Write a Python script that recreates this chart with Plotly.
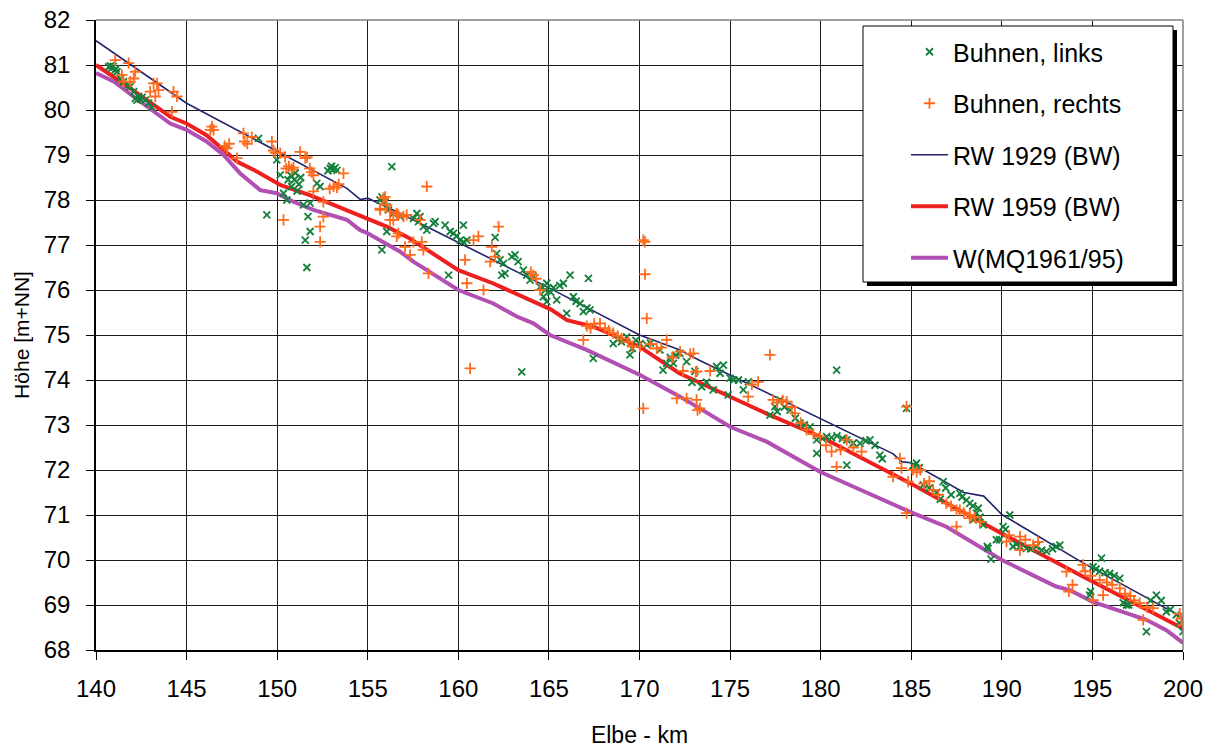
import plotly.graph_objects as go

# ---------------- data ----------------
km_links = [140.70, 140.80, 140.88, 140.95, 141.06, 141.10, 141.16, 141.34, 141.52, 141.80, 141.89, 142.08, 142.17, 142.26, 142.35,
            142.45, 142.54, 142.72, 142.90, 143.09, 148.97, 149.43, 149.98, 150.17, 150.35, 150.53, 150.60, 150.75, 150.80, 150.95,
            151.00, 151.10, 151.20, 151.30, 151.45, 151.55, 151.64, 151.70, 151.82, 151.82, 152.19, 152.37, 152.80, 152.93, 153.00,
            153.10, 153.20, 153.30, 155.68, 155.78, 155.78, 155.96, 156.05, 156.05, 156.14, 156.33, 156.41, 156.79, 157.52, 157.71,
            157.80, 157.89, 158.07, 158.26, 158.63, 158.72, 159.27, 159.46, 159.55, 159.73, 159.91, 160.10, 160.28, 160.28, 160.47,
            162.03, 162.12, 162.30, 162.40, 162.49, 162.58, 162.95, 163.13, 163.30, 163.50, 163.59, 163.77, 163.96, 164.14, 164.51,
            164.70, 164.80, 164.88, 164.88, 165.10, 165.25, 165.43, 165.60, 165.80, 165.98, 166.17, 166.35, 166.50, 166.72, 166.90,
            167.10, 167.18, 167.27, 167.45, 168.55, 168.80, 169.00, 169.29, 169.47, 169.60, 169.80, 170.03, 170.40, 170.60, 171.13,
            171.30, 171.50, 171.70, 171.87, 172.00, 172.23, 172.60, 172.90, 173.06, 173.43, 173.70, 174.07, 174.26, 174.45, 174.63,
            174.90, 175.00, 175.20, 175.46, 175.73, 176.01, 177.20, 177.47, 177.60, 177.75, 178.00, 178.31, 178.60, 178.86, 179.10,
            179.41, 179.78, 179.78, 180.10, 180.33, 180.60, 180.88, 180.90, 181.20, 181.44, 181.44, 181.80, 182.17, 182.50, 182.72,
            183.00, 183.27, 183.40, 184.74, 185.10, 185.29, 185.45, 185.66, 186.00, 186.40, 186.60, 186.76, 186.90, 187.20, 187.68,
            187.80, 188.05, 188.23, 188.40, 188.42, 188.60, 188.70, 188.80, 188.97, 189.20, 189.24, 189.40, 189.70, 189.88, 190.07,
            190.20, 190.44, 190.62, 190.80, 191.00, 191.36, 191.60, 191.90, 192.20, 192.46, 192.80, 193.00, 193.20, 194.85, 194.90,
            195.04, 195.20, 195.40, 195.50, 195.70, 195.96, 196.20, 196.51, 196.70, 196.88, 197.00, 197.98, 198.20, 198.53, 198.80,
            199.08, 199.30, 199.63, 199.80, 200.00]
h_links = [80.96, 80.98, 80.93, 80.97, 80.89, 80.92, 80.85, 80.70, 80.63, 80.56, 80.52, 80.41, 80.26, 80.22, 80.30,
           80.24, 80.28, 80.22, 80.15, 80.06, 79.37, 77.67, 78.89, 78.56, 78.15, 78.00, 78.45, 78.55, 78.30, 78.45,
           78.60, 78.20, 78.35, 78.50, 77.89, 77.11, 76.50, 77.63, 77.93, 77.30, 78.37, 78.30, 78.65, 78.70, 78.75,
           78.68, 78.72, 78.66, 78.00, 78.07, 76.89, 77.96, 77.30, 77.85, 77.78, 78.74, 77.70, 77.63, 77.59, 77.70,
           77.52, 77.63, 77.41, 77.33, 77.48, 77.52, 77.44, 76.33, 77.30, 77.26, 77.20, 77.11, 77.07, 77.44, 77.11,
           77.17, 76.81, 76.67, 76.33, 76.59, 76.37, 76.74, 76.78, 76.63, 74.18, 76.44, 76.33, 76.22, 76.30, 76.07,
           75.85, 76.00, 76.15, 75.74, 75.95, 76.05, 75.78, 76.10, 76.15, 75.48, 76.33, 75.85, 75.75, 75.70, 75.52,
           75.60, 76.26, 75.56, 74.48, 74.81, 74.90, 74.85, 74.96, 74.56, 74.70, 74.88, 74.81, 74.78, 74.82, 74.67,
           74.22, 74.37, 74.50, 74.37, 74.55, 74.59, 74.41, 73.95, 74.19, 73.85, 73.95, 73.78, 74.30, 74.15, 74.33,
           73.67, 74.04, 74.00, 74.00, 73.78, 73.96, 73.22, 73.41, 73.30, 73.56, 73.40, 73.33, 73.15, 73.04, 73.00,
           72.96, 72.67, 72.37, 72.70, 72.74, 72.72, 74.22, 72.76, 72.70, 72.67, 72.11, 72.60, 72.59, 72.65, 72.67,
           72.55, 72.33, 72.25, 73.37, 72.10, 72.15, 72.05, 71.67, 71.60, 71.50, 71.35, 71.74, 71.60, 71.45, 71.48,
           71.40, 71.33, 71.26, 71.20, 70.89, 71.04, 71.15, 70.95, 70.78, 70.30, 70.26, 70.02, 70.45, 70.45, 70.74,
           70.68, 71.00, 70.30, 70.35, 70.30, 70.26, 70.25, 70.30, 70.22, 70.19, 70.25, 70.30, 70.33, 69.22, 69.30,
           69.85, 69.80, 69.75, 70.04, 69.72, 69.70, 69.65, 69.59, 69.05, 69.00, 69.00, 68.41, 69.10, 69.22, 69.10,
           68.85, 68.90, 68.78, 68.60, 68.41]

km_rechts = [141.06, 141.43, 141.52, 141.80, 141.89, 142.08, 142.17, 142.99, 143.18, 143.27, 143.37, 143.45, 144.19, 144.28, 144.47,
             146.31, 146.40, 146.49, 147.10, 147.23, 147.35, 147.78, 148.14, 148.20, 148.35, 148.60, 149.71, 149.80, 149.90, 150.17,
             150.35, 150.44, 150.50, 150.65, 150.80, 150.90, 151.27, 151.55, 151.65, 151.80, 151.90, 152.00, 152.00, 152.37, 152.37,
             152.55, 152.55, 152.90, 153.11, 153.30, 153.40, 153.66, 155.68, 155.69, 155.86, 155.96, 156.05, 156.23, 156.23, 156.41,
             156.60, 156.60, 156.69, 156.69, 156.97, 157.06, 157.15, 157.34, 157.52, 157.89, 157.98, 158.07, 158.26, 158.35, 160.37,
             160.47, 160.65, 160.84, 161.11, 161.39, 161.76, 161.85, 162.03, 162.22, 164.00, 164.14, 164.30, 164.51, 166.90, 167.09,
             167.30, 167.50, 167.82, 168.10, 168.30, 168.55, 168.80, 169.00, 169.38, 169.60, 170.03, 170.21, 170.30, 170.30, 170.21,
             170.40, 170.60, 170.95, 171.20, 171.50, 171.80, 172.06, 172.24, 172.40, 172.60, 172.80, 172.98, 173.10, 173.15, 173.17,
             173.20, 173.33, 173.90, 176.00, 176.20, 176.55, 177.20, 177.38, 177.60, 177.90, 178.12, 178.40, 178.58, 178.90, 179.22,
             179.60, 179.96, 180.30, 180.60, 180.88, 181.10, 181.44, 181.80, 182.26, 184.00, 184.37, 184.46, 184.74, 184.74, 184.83,
             185.10, 185.30, 185.50, 185.70, 186.00, 186.21, 186.50, 186.94, 187.20, 187.50, 187.50, 187.68, 187.90, 188.23, 188.23,
             188.50, 188.79, 190.26, 190.40, 191.00, 191.00, 191.30, 191.73, 192.00, 193.57, 193.70, 193.90, 194.48, 194.60, 194.90,
             195.04, 195.40, 195.59, 195.80, 196.10, 196.51, 196.80, 197.10, 197.30, 197.61, 197.80, 198.00, 198.35, 199.82, 199.90,
             200.00]
h_rechts = [81.11, 80.78, 80.63, 81.04, 80.63, 80.70, 80.85, 80.41, 80.59, 80.30, 80.59, 80.44, 79.96, 80.41, 80.30,
            79.56, 79.63, 79.56, 79.20, 79.15, 79.25, 78.93, 79.48, 79.30, 79.25, 79.40, 79.30, 79.10, 79.05, 79.04,
            77.56, 78.96, 78.70, 78.75, 78.68, 78.72, 79.07, 78.93, 78.95, 78.70, 78.62, 78.55, 78.19, 77.41, 77.07,
            77.96, 77.63, 78.25, 78.30, 78.28, 78.35, 78.59, 77.81, 77.78, 78.04, 78.07, 77.89, 77.74, 77.56, 77.56,
            77.70, 77.19, 77.67, 77.26, 77.63, 76.96, 77.67, 76.78, 77.07, 77.56, 77.07, 76.89, 78.30, 76.37, 76.67,
            76.15, 74.26, 77.11, 77.19, 76.00, 76.63, 76.96, 76.74, 77.41, 76.40, 76.33, 76.25, 76.00, 74.89, 75.20,
            75.15, 75.25, 75.26, 75.15, 75.10, 75.04, 74.98, 74.92, 74.85, 74.75, 74.74, 77.11, 77.07, 76.35, 73.37,
            75.37, 74.80, 74.70, 74.72, 74.89, 74.50, 73.59, 74.63, 74.20, 73.59, 74.58, 74.59, 74.18, 73.56, 74.19,
            73.33, 73.37, 74.20, 73.63, 73.90, 73.96, 74.56, 73.56, 73.50, 73.55, 73.52, 73.40, 73.26, 73.05, 72.89,
            72.80, 72.74, 72.55, 72.41, 72.07, 72.45, 72.67, 72.50, 72.41, 71.85, 72.26, 72.04, 73.41, 71.04, 71.74,
            72.00, 71.95, 72.00, 71.70, 71.75, 71.56, 71.45, 71.26, 71.20, 71.11, 70.74, 71.11, 71.05, 70.93, 71.00,
            70.95, 70.85, 70.41, 70.55, 70.52, 70.22, 70.45, 70.33, 70.40, 69.74, 69.30, 69.45, 69.89, 69.75, 69.65,
            69.11, 69.56, 69.22, 69.50, 69.45, 69.37, 69.25, 69.20, 69.10, 69.04, 68.67, 68.95, 68.93, 68.81, 68.70,
            68.55]

km_rw1929 = [140.0, 145.0, 153.85, 154.6, 155.0, 156.8, 164.9, 170.0, 172.2, 173.3, 184.0, 184.5, 185.0, 187.9, 189.0, 190.0, 194.5, 200.0]
h_rw1929 = [81.54, 80.15, 78.26, 78.01, 78.04, 77.70, 76.07, 75.00, 74.67, 74.44, 72.36, 72.18, 72.16, 71.50, 71.42, 71.01, 69.93, 68.72]

km_rw1959 = [140.0, 141.0, 141.9, 144.1, 145.0, 146.1, 147.8, 148.9, 150.2, 151.8, 154.4, 156.05, 157.3, 160.0, 161.9, 164.3,
             165.1, 166.0, 167.5, 170.0, 172.2, 177.2, 180.0, 185.1, 188.8, 190.0, 194.5, 200.0]
h_rw1959 = [81.00, 80.74, 80.48, 79.85, 79.70, 79.44, 78.85, 78.63, 78.33, 78.11, 77.67, 77.41, 77.15, 76.44, 76.15, 75.70,
            75.57, 75.33, 75.18, 74.74, 74.15, 73.22, 72.74, 71.67, 70.85, 70.59, 69.63, 68.48]

km_mq = [140.0, 141.0, 142.07, 144.1, 145.0, 146.1, 147.04, 147.96, 149.06, 149.98, 150.9, 152.0, 153.85, 154.58, 154.95,
         156.79, 157.52, 160.0, 161.93, 163.23, 164.14, 165.06, 167.08, 170.03, 172.24, 175.0, 177.02, 179.96, 182.53,
         185.1, 186.94, 187.68, 190.0, 193.0, 193.75, 195.03, 197.98, 199.08, 200.0]
h_mq = [80.82, 80.63, 80.30, 79.70, 79.56, 79.30, 79.00, 78.59, 78.22, 78.15, 77.96, 77.78, 77.56, 77.33, 77.27,
        76.85, 76.63, 76.00, 75.70, 75.41, 75.26, 75.00, 74.67, 74.11, 73.63, 72.96, 72.63, 71.96, 71.50,
        71.04, 70.74, 70.56, 70.00, 69.41, 69.33, 69.07, 68.67, 68.44, 68.16]

x_ticks = [140, 145, 150, 155, 160, 165, 170, 175, 180, 185, 190, 195, 200]
y_ticks = list(range(68, 83))

# ---------------- layout geometry (pixels) ----------------
W, H = 1219, 749
L, R, T, B = 96, 1183, 20, 650
FONT = "Liberation Sans, Arial, sans-serif"

def px_x(p):
    return (p - L) / (R - L)

def px_y(p):
    return (B - p) / (B - T)

GREEN = "#14803c"
ORANGE = "#ff6a1c"

fig = go.Figure()

fig.add_trace(go.Scatter(x=km_rw1929, y=h_rw1929, mode="lines", name="RW 1929 (BW)",
                         line=dict(color="#23236e", width=1.6), legendrank=3, legendgroup="c"))
fig.add_trace(go.Scatter(x=km_rw1959, y=h_rw1959, mode="lines", name="RW 1959 (BW)",
                         line=dict(color="#ee1f1f", width=4), legendrank=4, legendgroup="d"))
fig.add_trace(go.Scatter(x=km_mq, y=h_mq, mode="lines", name="W(MQ1961/95)",
                         line=dict(color="#b14fb2", width=4), legendrank=5, legendgroup="e"))
fig.add_trace(go.Scatter(x=km_links, y=h_links, mode="markers", name="Buhnen, links",
                         marker=dict(symbol="x-thin", size=7, color=GREEN, line=dict(color=GREEN, width=1.8)),
                         legendrank=1, legendgroup="a"))
fig.add_trace(go.Scatter(x=km_rechts, y=h_rechts, mode="markers", name="Buhnen, rechts",
                         marker=dict(symbol="cross-thin", size=8, color=ORANGE, line=dict(color=ORANGE, width=1.8)),
                         legendrank=2, legendgroup="b"))

shapes = [
    # top and right frame
    dict(type="line", xref="paper", yref="paper", x0=0, x1=1, y0=1, y1=1, line=dict(color="#808080", width=1.5)),
    dict(type="line", xref="paper", yref="paper", x0=1, x1=1, y0=0, y1=1, line=dict(color="#808080", width=1.5)),
    # legend shadow
    dict(type="rect", xref="paper", yref="paper", x0=px_x(867), x1=px_x(1177), y0=px_y(286), y1=px_y(30),
         fillcolor="black", line=dict(width=0), layer="above"),
    # legend box
    dict(type="rect", xref="paper", yref="paper", x0=px_x(863), x1=px_x(1173), y0=px_y(282), y1=px_y(26),
         fillcolor="white", line=dict(color="black", width=1), layer="above"),
]

fig.update_layout(
    width=W, height=H,
    margin=dict(l=L, r=W - R, t=T, b=H - B),
    paper_bgcolor="white", plot_bgcolor="white",
    font=dict(family=FONT, color="black", size=24),
    showlegend=True,
    legend=dict(x=px_x(906), y=px_y(29), xanchor="left", yanchor="top",
                bgcolor="rgba(0,0,0,0)", borderwidth=0,
                font=dict(family=FONT, size=25, color="black"),
                itemwidth=37,
                traceorder="grouped", tracegroupgap=16),
    shapes=shapes,
    xaxis=dict(range=[140, 200], tickmode="array", tickvals=x_ticks, ticktext=[str(v) for v in x_ticks],
               showgrid=True, gridcolor="#1a1a1a", gridwidth=1,
               showline=True, linecolor="black", linewidth=1.5,
               ticks="outside", ticklen=8, tickcolor="black", tickwidth=1,
               tickfont=dict(family=FONT, size=24), ticklabelstandoff=8,
               zeroline=False, automargin=False,
               title=dict(text="Elbe - km", font=dict(family=FONT, size=23), standoff=26)),
    yaxis=dict(range=[68, 82], tickmode="array", tickvals=y_ticks, ticktext=[str(v) for v in y_ticks],
               showgrid=True, gridcolor="#1a1a1a", gridwidth=1,
               showline=True, linecolor="black", linewidth=1.5,
               ticks="outside", ticklen=8, tickcolor="black", tickwidth=1,
               tickfont=dict(family=FONT, size=24), ticklabelstandoff=11,
               zeroline=False, automargin=False,
               title=dict(text="Höhe [m+NN]", font=dict(family=FONT, size=21), standoff=8)),
)

fig.write_html("out.html")
